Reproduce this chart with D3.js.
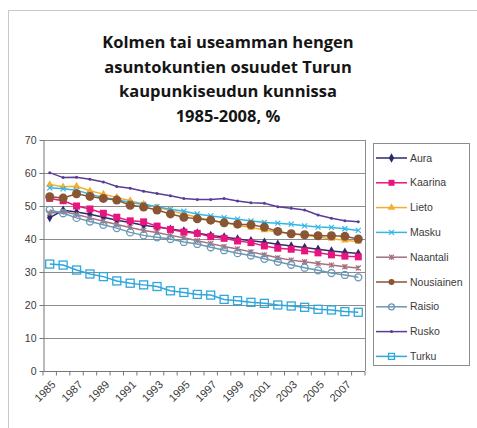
<!DOCTYPE html>
<html>
<head>
<meta charset="utf-8">
<script src="https://cdn.jsdelivr.net/npm/d3@7"></script>
<style>
	body { margin: 0; background: #fff; }
	svg { display: block; }
	.title { font-family: 'Open Sans', Lato, sans-serif; font-weight: 700; font-size: 16.5px; fill: #151515; }
	.tick text, .legend text { font-family: 'Liberation Sans', Arial, sans-serif; font-size: 10.5px; fill: #3a3a3a; }
	.xlab text { font-size: 11px; }
</style>
</head>
<body>
<script>
const years = d3.range(1985, 2009);
const yTicks = [0, 10, 20, 30, 40, 50, 60, 70];
const titleLines = ['Kolmen tai useamman hengen', 'asuntokuntien osuudet Turun', 'kaupunkiseudun kunnissa', '1985-2008, %'];

const aura = [46.5, 48.7, 48.2, 47.5, 46.6, 45.7, 45, 44.2, 43.6, 43, 42.4, 41.8, 41.1, 40.6, 40, 39.5, 39, 38.4, 37.9, 37.4, 36.9, 36.4, 36, 35.6];
const kaarina = [52.3, 51.6, 50.0, 49.1, 47.8, 46.6, 45.5, 45.2, 43.9, 42.9, 42.1, 41.7, 40.7, 40.2, 39.4, 38.9, 37.9, 37.2, 36.9, 36.4, 35.8, 35.2, 34.8, 34.6];
const lieto = [56.5, 55.8, 56, 54.6, 53.6, 52.6, 51.6, 50.6, 49.6, 48.6, 47.6, 46.6, 45.6, 45, 44.2, 43.5, 42.7, 42.1, 41.6, 41.1, 40.6, 40.1, 39.6, 39.2];
const masku = [55.5, 55.2, 54.8, 53.6, 52.6, 52, 51, 50.5, 49.8, 49, 48.4, 47.6, 47, 46.5, 46, 45.5, 45, 44.8, 44.5, 44, 43.6, 43.5, 43.1, 42.6];
const naantali = [47.8, 48.3, 47.4, 46.4, 45.4, 44.4, 43.5, 42.6, 42, 41.1, 40.4, 39.5, 38.6, 37.7, 37, 36.1, 35.2, 34.3, 33.6, 33.1, 32.6, 32.1, 31.6, 31.2];
const nousiainen = [52.8, 52.4, 53.7, 52.9, 52.3, 51.8, 50.2, 49.7, 48.8, 47.6, 46.6, 46.1, 45.7, 44.9, 44.5, 44.3, 43.6, 42.3, 41.6, 41.3, 41.0, 41.0, 40.8, 40.0];
const raisio = [48.8, 47.8, 46.4, 45.3, 44.3, 43.3, 42, 41.1, 40.5, 40, 39.1, 38.5, 37.5, 36.6, 35.7, 35, 34, 33.1, 32.2, 31.3, 30.5, 29.7, 29.1, 28.4];
const rusko = [60.1, 58.6, 58.7, 58.1, 57.3, 55.9, 55.4, 54.5, 53.8, 53.1, 52.3, 52.0, 52.0, 52.3, 51.5, 51.0, 50.8, 49.8, 49.3, 48.8, 47.3, 46.3, 45.5, 45.2];
const turku = [32.4, 32.1, 30.6, 29.4, 28.6, 27.3, 26.6, 26.1, 25.6, 24.3, 23.8, 23.2, 23.0, 21.7, 21.3, 20.8, 20.5, 20.0, 19.7, 19.3, 18.7, 18.5, 18.0, 17.8];

const series = [
	{ name: 'Aura', values: aura, color: '#2c2a6b', marker: 'diamond', size: 4 },
	{ name: 'Kaarina', values: kaarina, color: '#e8157e', marker: 'square', size: 7 },
	{ name: 'Lieto', values: lieto, color: '#f6ad2e', marker: 'triangle', size: 5 },
	{ name: 'Masku', values: masku, color: '#33b6e6', marker: 'cross', size: 5 },
	{ name: 'Naantali', values: naantali, color: '#a3707f', marker: 'star', size: 5 },
	{ name: 'Nousiainen', values: nousiainen, color: '#8a5533', marker: 'circle', size: 9 },
	{ name: 'Raisio', values: raisio, color: '#6a98b5', marker: 'ocircle', size: 7 },
	{ name: 'Rusko', values: rusko, color: '#5a3b96', marker: 'dot', size: 3 },
	{ name: 'Turku', values: turku, color: '#2fa6dc', marker: 'osquare', size: 8 }
];

const width = 477;
const height = 428;
const plot = { left: 43, right: 365, top: 140, bottom: 371 };

const svg = d3.select('body').append('svg')
	.attr('width', width)
	.attr('height', height);

// outer chart frame
svg.append('rect')
	.attr('x', 8.5).attr('y', 10.5)
	.attr('width', width - 6).attr('height', height - 4)
	.attr('fill', '#fff').attr('stroke', '#c8c8c8');

svg.selectAll('.title')
	.data(titleLines)
	.enter()
	.append('text')
	.attr('class', 'title')
	.attr('x', 228)
	.attr('y', function(d, i) { return 48 + i * 24.5; })
	.attr('text-anchor', 'middle')
	.text(function(d) { return d; });

const xScale = d3.scalePoint()
	.domain(years)
	.range([plot.left, plot.right])
	.padding(0.5);

const yScale = d3.scaleLinear()
	.domain([0, 70])
	.range([plot.bottom, plot.top]);

// gridlines
svg.append('g')
	.selectAll('line')
	.data(yTicks)
	.enter()
	.append('line')
	.attr('x1', plot.left).attr('x2', plot.right)
	.attr('y1', function(d) { return Math.round(yScale(d)) + 0.5; })
	.attr('y2', function(d) { return Math.round(yScale(d)) + 0.5; })
	.attr('stroke', '#8c8c8c');

// right border of plot area
svg.append('line')
	.attr('x1', plot.right + 0.5).attr('x2', plot.right + 0.5)
	.attr('y1', plot.top).attr('y2', plot.bottom)
	.attr('stroke', '#8c8c8c');

const yAxis = svg.append('g')
	.attr('transform', 'translate(' + (plot.left + 0.5) + ',0)')
	.call(d3.axisLeft(yScale).tickValues(yTicks).tickSize(4).tickSizeOuter(0));
yAxis.select('.domain').attr('stroke', '#777');
yAxis.selectAll('.tick line').attr('stroke', '#777');

// category axis: ticks between categories, labels every other year
const step = xScale.step();
const xAxis = svg.append('g')
	.attr('class', 'xlab')
	.attr('transform', 'translate(0,' + (Math.round(plot.bottom) + 0.5) + ')');
xAxis.append('line')
	.attr('x1', plot.left).attr('x2', plot.right)
	.attr('stroke', '#777');
xAxis.selectAll('.sep')
	.data(d3.range(years.length + 1))
	.enter()
	.append('line')
	.attr('x1', function(i) { return plot.left + i * step; })
	.attr('x2', function(i) { return plot.left + i * step; })
	.attr('y1', 0).attr('y2', 4)
	.attr('stroke', '#777');
xAxis.selectAll('.tick')
	.data(years.filter(function(y) { return (y - 1985) % 2 === 0; }))
	.enter()
	.append('g')
	.attr('class', 'tick')
	.attr('transform', function(d) { return 'translate(' + (xScale(d) + 4) + ',11) rotate(-45)'; })
	.append('text')
	.attr('text-anchor', 'end')
	.attr('dy', '0.35em')
	.text(function(d) { return d; });

const line = d3.line()
	.x(function(d, i) { return xScale(years[i]); })
	.y(function(d) { return yScale(d); });

function drawMarker(sel, s) {
	const r = s.size / 2;
	if (s.marker === 'circle' || s.marker === 'dot') {
		sel.append('circle').attr('r', r).attr('fill', s.color);
	} else if (s.marker === 'ocircle') {
		sel.append('circle').attr('r', r).attr('fill', 'none').attr('stroke', s.color).attr('stroke-width', 1.3);
	} else if (s.marker === 'square') {
		sel.append('rect').attr('x', -r).attr('y', -r).attr('width', s.size).attr('height', s.size).attr('fill', s.color);
	} else if (s.marker === 'osquare') {
		sel.append('rect').attr('x', -r).attr('y', -r).attr('width', s.size).attr('height', s.size)
			.attr('fill', 'none').attr('stroke', s.color).attr('stroke-width', 1.3);
	} else if (s.marker === 'diamond') {
		sel.append('path').attr('d', d3.symbol(d3.symbolDiamond, s.size * s.size * 1.6)).attr('fill', s.color);
	} else if (s.marker === 'triangle') {
		sel.append('path').attr('d', d3.symbol(d3.symbolTriangle, s.size * s.size)).attr('fill', s.color);
	} else if (s.marker === 'cross') {
		sel.append('path').attr('d', 'M' + (-r) + ',' + (-r) + 'L' + r + ',' + r + 'M' + (-r) + ',' + r + 'L' + r + ',' + (-r))
			.attr('stroke', s.color).attr('stroke-width', 1.2);
	} else if (s.marker === 'star') {
		sel.append('path').attr('d', 'M' + (-r) + ',' + (-r) + 'L' + r + ',' + r + 'M' + (-r) + ',' + r + 'L' + r + ',' + (-r) + 'M0,' + (-r) + 'L0,' + r)
			.attr('stroke', s.color).attr('stroke-width', 1.2);
	}
}

series.forEach(function(s) {
	const g = svg.append('g');
	g.append('path')
		.datum(s.values)
		.attr('d', line)
		.attr('fill', 'none')
		.attr('stroke', s.color)
		.attr('stroke-width', 1.5);
	g.selectAll('.m')
		.data(s.values)
		.enter()
		.append('g')
		.attr('transform', function(d, i) { return 'translate(' + xScale(years[i]) + ',' + yScale(d) + ')'; })
		.each(function() { drawMarker(d3.select(this), s); });
});

// legend
const legend = svg.append('g').attr('class', 'legend');
legend.append('rect')
	.attr('x', 373.5).attr('y', 143.5)
	.attr('width', 96).attr('height', 222)
	.attr('fill', '#fff').attr('stroke', '#8c8c8c');

const item = legend.selectAll('.item')
	.data(series)
	.enter()
	.append('g')
	.attr('transform', function(d, i) { return 'translate(376,' + (158 + i * 24.8) + ')'; });
item.append('line')
	.attr('x1', 0).attr('x2', 31)
	.attr('stroke', function(d) { return d.color; })
	.attr('stroke-width', 1.5);
item.append('g')
	.attr('transform', 'translate(15.5,0)')
	.each(function(d) {
		const small = Object.assign({}, d, { size: Math.min(d.size, 6) });
		drawMarker(d3.select(this), small);
	});
item.append('text')
	.attr('x', 34)
	.attr('dy', '0.35em')
	.text(function(d) { return d.name; });
</script>
</body>
</html>
